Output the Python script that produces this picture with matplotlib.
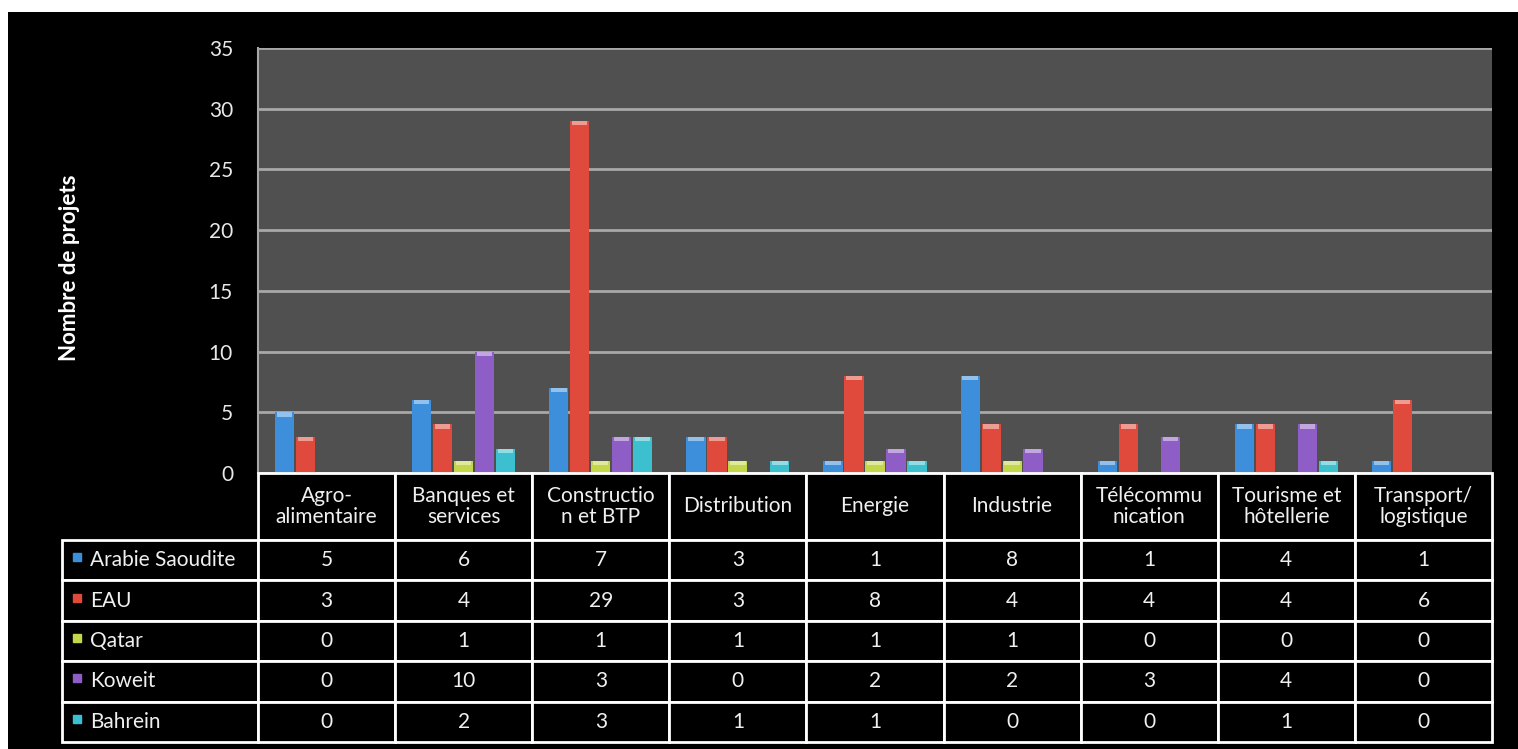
import numpy as np
import matplotlib.pyplot as plt
from matplotlib.patches import Rectangle
from matplotlib.colors import to_rgb

plt.rcParams['font.family'] = ['Lato', 'DejaVu Sans']

categories = ['Agro-\nalimentaire', 'Banques et\nservices', 'Constructio\nn et BTP',
              'Distribution', 'Energie', 'Industrie', 'Télécommu\nnication',
              'Tourisme et\nhôtellerie', 'Transport/\nlogistique']
countries = ['Arabie Saoudite', 'EAU', 'Qatar', 'Koweit', 'Bahrein']
arabie = [5, 6, 7, 3, 1, 8, 1, 4, 1]
eau = [3, 4, 29, 3, 8, 4, 4, 4, 6]
qatar = [0, 1, 1, 1, 1, 1, 0, 0, 0]
koweit = [0, 10, 3, 0, 2, 2, 3, 4, 0]
bahrein = [0, 2, 3, 1, 1, 0, 0, 1, 0]
series = [arabie, eau, qatar, koweit, bahrein]
colors = ['#3d8fdc', '#e04a3c', '#c4d64a', '#8e5ec6', '#3cbfcf']

W, H = 1518, 749
fig = plt.figure(figsize=(W / 100, H / 100), dpi=100, facecolor='white')
# black panel, leaving the thin white strip at top/left
fig.patches.append(Rectangle((8 / W, 0), 1, 1 - 12 / H, transform=fig.transFigure,
                             facecolor='black', edgecolor='none', zorder=-10))

left, right, top, bottom = 258, 1492, 48, 473
ax = fig.add_axes([left / W, 1 - bottom / H, (right - left) / W, (bottom - top) / H])
ax.set_facecolor('#505050')

x = np.arange(len(categories))
step, bw = 0.153, 0.14
for j, vals in enumerate(series):
    v = np.array(vals, dtype=float)
    xs = x + (j - 2) * step
    ax.bar(xs, v, width=bw, color=colors[j], zorder=3)
    # lighter cap on top of each bar (the 3D cylinder look)
    light = tuple(0.55 * c + 0.45 for c in to_rgb(colors[j]))
    cap = np.where(v > 0, 0.35, 0)
    ax.bar(xs, cap, bottom=v - cap, width=bw * 0.8, color=light, zorder=4)

ax.set_xlim(-0.5, len(categories) - 0.5)
ax.set_ylim(0, 35)
ax.set_yticks(range(0, 36, 5))
ax.yaxis.grid(True, color='#a8a8a8', linewidth=2, zorder=1)
ax.set_xticks([])
ax.tick_params(axis='y', length=0, pad=18, labelsize=15, labelcolor='#e8e8e8')
for s in ['top', 'right', 'bottom']:
    ax.spines[s].set_visible(False)
ax.spines['left'].set_color('#a8a8a8')
ax.spines['left'].set_linewidth(1.5)

fig.text(70 / W, 1 - 268 / H, 'Nombre de projets', rotation=90, color='white',
         fontsize=16, fontweight='bold', ha='center', va='center')

# data table under the plot, in axes coordinates
cw = right - left
axh = bottom - top
lab_w = 196 / cw
col_w = 1 / len(categories)
head_h = 67 / axh
row_h = 40.4 / axh
lw = 2
tsize = 15

def cell(x0, y0, w, h, txt, ha='center'):
    ax.add_patch(Rectangle((x0, y0), w, h, transform=ax.transAxes, clip_on=False,
                           facecolor='black', edgecolor='white', linewidth=lw, zorder=5))
    tx = x0 + w / 2 if ha == 'center' else x0 + 28 / cw
    ax.text(tx, y0 + h / 2, txt, transform=ax.transAxes, ha=ha, va='center',
            color='#f0f0f0', fontsize=tsize, linespacing=1.05, clip_on=False, zorder=6)

for c, name in enumerate(categories):
    cell(c * col_w, -head_h, col_w, head_h, name)
for r, vals in enumerate(series):
    y0 = -head_h - row_h * (r + 1)
    cell(-lab_w, y0, lab_w, row_h, countries[r], ha='left')
    ax.plot([-lab_w + 15 / cw], [y0 + row_h / 2 + 3 / axh], marker='s', markersize=6,
            color=colors[r], transform=ax.transAxes, clip_on=False, zorder=7)
    for c, v in enumerate(vals):
        cell(c * col_w, y0, col_w, row_h, str(v))

fig.savefig('out.png', dpi=100, facecolor='white')
